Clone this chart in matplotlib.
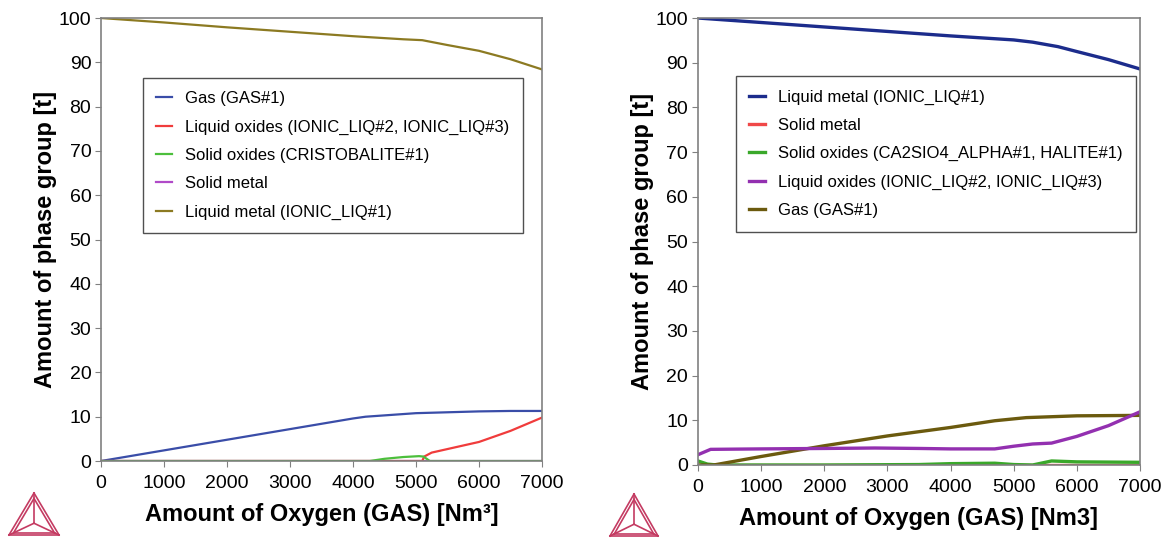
import numpy as np
import matplotlib.pyplot as plt
from matplotlib.lines import Line2D

plt.rcParams['font.family'] = ['Liberation Sans', 'DejaVu Sans']

# ---- left panel data ----
L_gas_x = [0, 1000, 2000, 3000, 4000, 4200, 4600, 5000, 5500, 6000, 6500, 7000]
L_gas_y = [0, 2.4, 4.8, 7.2, 9.6, 10.0, 10.4, 10.8, 11.0, 11.2, 11.3, 11.3]
L_liqox_x = [0, 5100, 5130, 5250, 5500, 6000, 6500, 7000]
L_liqox_y = [0, 0, 1.0, 1.9, 2.7, 4.3, 6.8, 9.8]
L_solox_x = [0, 4270, 4500, 4800, 5050, 5120, 5220, 7000]
L_solox_y = [0, 0, 0.5, 0.9, 1.1, 1.0, 0, 0]
L_solmet_x = [0, 7000]
L_solmet_y = [0, 0]
L_liqmet_x = [0, 1000, 2000, 3000, 4000, 4800, 5100, 5500, 6000, 6500, 7000]
L_liqmet_y = [100, 99.0, 97.9, 96.9, 95.9, 95.2, 95.0, 93.9, 92.6, 90.7, 88.4]

# ---- right panel data ----
R_liqmet_x = [0, 1000, 2000, 3000, 4000, 5000, 5300, 5700, 6000, 6500, 7000]
R_liqmet_y = [100, 99.0, 98.0, 97.0, 96.0, 95.1, 94.6, 93.6, 92.5, 90.7, 88.6]
R_solmet_x = [0, 7000]
R_solmet_y = [0, 0]
R_solox_x = [0, 150, 300, 2000, 3500, 4000, 4700, 5000, 5300, 5600, 6000, 7000]
R_solox_y = [0.9, 0.2, 0, 0, 0.1, 0.3, 0.4, 0.1, 0, 0.9, 0.7, 0.6]
R_liqox_x = [0, 200, 1000, 2000, 2800, 3500, 4000, 4700, 5000, 5300, 5600, 6000, 6500, 7000]
R_liqox_y = [2.3, 3.5, 3.6, 3.7, 3.8, 3.7, 3.6, 3.6, 4.2, 4.7, 4.9, 6.4, 8.8, 11.9]
R_gas_x = [0, 250, 1000, 2000, 3000, 4000, 4700, 5200, 6000, 7000]
R_gas_y = [0, 0, 1.9, 4.3, 6.5, 8.4, 9.9, 10.6, 11.0, 11.1]

fig = plt.figure(figsize=(11.66, 5.38), dpi=100)
ax1 = fig.add_axes([0.0866, 0.1431, 0.3782, 0.8234])
ax2 = fig.add_axes([0.5986, 0.1357, 0.3791, 0.8308])

ax1.plot(L_gas_x, L_gas_y, color='#3a4da8', lw=1.6)
ax1.plot(L_solmet_x, L_solmet_y, color='#b04ac8', lw=1.6)
ax1.plot(L_liqox_x, L_liqox_y, color='#f03c3c', lw=1.6)
ax1.plot(L_solox_x, L_solox_y, color='#4cbf3c', lw=1.6)
ax1.plot(L_liqmet_x, L_liqmet_y, color='#8c7a22', lw=1.6)
h1 = [Line2D([], [], color='#3a4da8', lw=1.6),
      Line2D([], [], color='#f03c3c', lw=1.6),
      Line2D([], [], color='#4cbf3c', lw=1.6),
      Line2D([], [], color='#b04ac8', lw=1.6),
      Line2D([], [], color='#8c7a22', lw=1.6)]
n1 = ['Gas (GAS#1)', 'Liquid oxides (IONIC_LIQ#2, IONIC_LIQ#3)',
      'Solid oxides (CRISTOBALITE#1)', 'Solid metal', 'Liquid metal (IONIC_LIQ#1)']

ax2.plot(R_solmet_x, R_solmet_y, color='#f04848', lw=2.4)
ax2.plot(R_solox_x, R_solox_y, color='#3aa82a', lw=2.4)
ax2.plot(R_gas_x, R_gas_y, color='#6b5a0e', lw=2.4)
ax2.plot(R_liqox_x, R_liqox_y, color='#9330b0', lw=2.4)
ax2.plot(R_liqmet_x, R_liqmet_y, color='#1c2c8c', lw=2.4)
h2 = [Line2D([], [], color='#1c2c8c', lw=2.4),
      Line2D([], [], color='#f04848', lw=2.4),
      Line2D([], [], color='#3aa82a', lw=2.4),
      Line2D([], [], color='#9330b0', lw=2.4),
      Line2D([], [], color='#6b5a0e', lw=2.4)]
n2 = ['Liquid metal (IONIC_LIQ#1)', 'Solid metal',
      'Solid oxides (CA2SIO4_ALPHA#1, HALITE#1)',
      'Liquid oxides (IONIC_LIQ#2, IONIC_LIQ#3)', 'Gas (GAS#1)']

for ax, hs, ns, anchor, xl in [(ax1, h1, n1, (0.095, 0.865), 'Amount of Oxygen (GAS) [Nm³]'),
                               (ax2, h2, n2, (0.086, 0.870), 'Amount of Oxygen (GAS) [Nm3]')]:
    ax.set_xlim(0, 7000)
    ax.set_ylim(0, 100)
    ax.set_xticks(np.arange(0, 7001, 1000))
    ax.set_yticks(np.arange(0, 101, 10))
    for s in ax.spines.values():
        s.set_color('#808080')
        s.set_linewidth(1.2)
    ax.tick_params(labelsize=14, length=4, color='#808080', pad=3)
    ax.tick_params(axis='x', pad=6)
    ax.set_xlabel(xl, fontsize=17, fontweight='bold', labelpad=8)
    ax.set_ylabel('Amount of phase group [t]', fontsize=17, fontweight='bold', labelpad=1)
    leg = ax.legend(hs, ns, loc='upper left', bbox_to_anchor=anchor, fontsize=12,
                    fancybox=False, edgecolor='#505050', framealpha=1,
                    handlelength=0.95, handletextpad=0.8, labelspacing=0.8,
                    borderpad=0.8, borderaxespad=0)
    leg.get_frame().set_linewidth(1.0)


def logo(cx, by, w, h):
    # simple Thermo-Calc style triangle mark in pixel coords
    W, H = 1166.0, 538.0
    def P(x, y):
        return (x / W, 1 - y / H)
    apex = (cx, by - h)
    bl = (cx - w / 2, by)
    br = (cx + w / 2, by)
    ctr = (cx, by - h * 0.28)
    col = '#c43b62'
    segs = [(apex, bl), (bl, br), (br, apex), (apex, ctr), (bl, ctr), (br, ctr)]
    for k in [0.0, 0.18]:
        for a, b in segs[:3]:
            pa = (a[0] + (ctr[0] - a[0]) * k, a[1] + (ctr[1] - a[1]) * k)
            pb = (b[0] + (ctr[0] - b[0]) * k, b[1] + (ctr[1] - b[1]) * k)
            xa, ya = P(*pa)
            xb, yb = P(*pb)
            fig.add_artist(Line2D([xa, xb], [ya, yb], color=col, lw=1.2))
    for a, b in segs[3:]:
        xa, ya = P(*a)
        xb, yb = P(*b)
        fig.add_artist(Line2D([xa, xb], [ya, yb], color=col, lw=1.2))


logo(34, 535, 50, 42)
logo(634, 536, 48, 42)

fig.savefig('out.png', dpi=100)
